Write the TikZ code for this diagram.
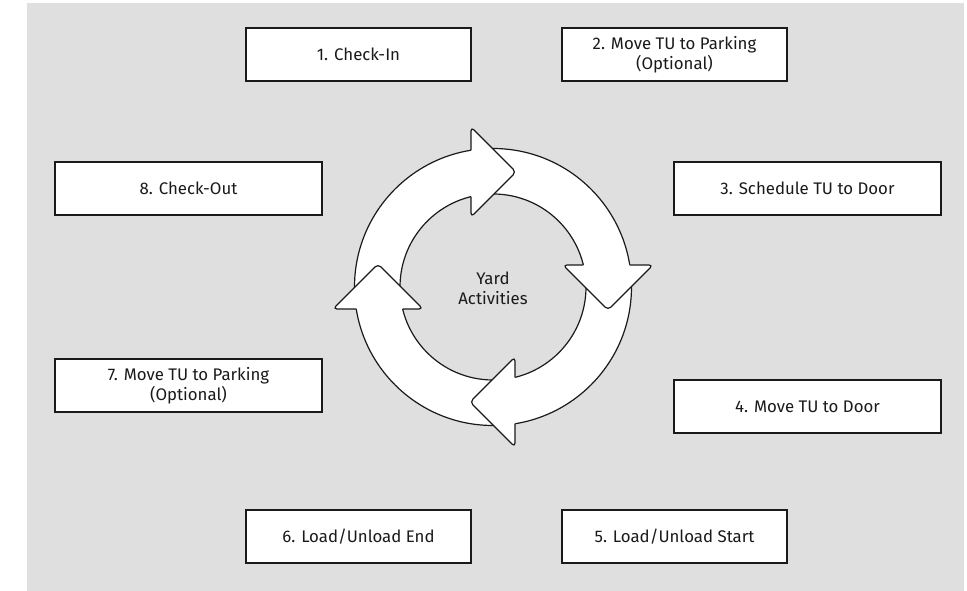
\documentclass[tikz,border=0pt]{standalone}
\usepackage{fontspec}
\setmainfont{Fira Sans}
\definecolor{panelgray}{HTML}{DFDFDF}
\definecolor{inkline}{HTML}{1A1A1A}
\begin{document}
\begin{tikzpicture}[x=1pt,y=1pt,
  stepbox/.style={draw=inkline, line width=1.2pt, fill=white, rectangle,
    minimum height=53pt, align=center, inner sep=0pt, text=inkline,
    font=\fontsize{16.8}{20}\selectfont},
  narrowbox/.style={stepbox, minimum width=225pt},
  widebox/.style={stepbox, minimum width=267pt},
  ringline/.style={draw=inkline, line width=1.2pt}]
\useasboundingbox (0,0) rectangle (967,591);
% grey panel
\fill[panelgray] (27,0) rectangle (964,588);

% process steps
\node[narrowbox] (s1) at (358.5,536.5) {1. Check-In};
\node[narrowbox] (s2) at (674.5,536.5) {2. Move TU to Parking\\(Optional)};
\node[widebox]   (s3) at (807.5,402.5) {3. Schedule TU to Door};
\node[widebox]   (s4) at (807.5,184.5) {4. Move TU to Door};
\node[narrowbox] (s5) at (674.5,54.5)  {5. Load/Unload Start};
\node[narrowbox] (s6) at (358.5,54.5)  {6. Load/Unload End};
\node[widebox]   (s7) at (188.5,205.5) {7. Move TU to Parking\\(Optional)};
\node[widebox]   (s8) at (188.5,402.5) {8. Check-Out};

% circular arrows: ring radii 93 / 138.5, heads on the back line x = -22
\begin{scope}[shift={(493,304)}]
  \fill[white, even odd rule] (0,0) circle (138.5) (0,0) circle (93);
  \draw[ringline] (0,0) circle (138.5) (0,0) circle (93);
  \foreach \a in {0,-90,-180,-270}{
    \begin{scope}[rotate=\a]
      \fill[white, rounded corners=4pt] (-22,70) -- (-22,160) -- (23,115) -- cycle;
      \draw[ringline, rounded corners=4pt, line join=round]
        (-22,90.36) -- (-22,70) -- (23,115) -- (-22,160) -- (-22,136.74);
    \end{scope}
  }
  \node[align=center, text=inkline, font=\fontsize{16.8}{20}\selectfont] (yard) at (0,-1) {Yard\\Activities};
\end{scope}
\end{tikzpicture}
\end{document}
